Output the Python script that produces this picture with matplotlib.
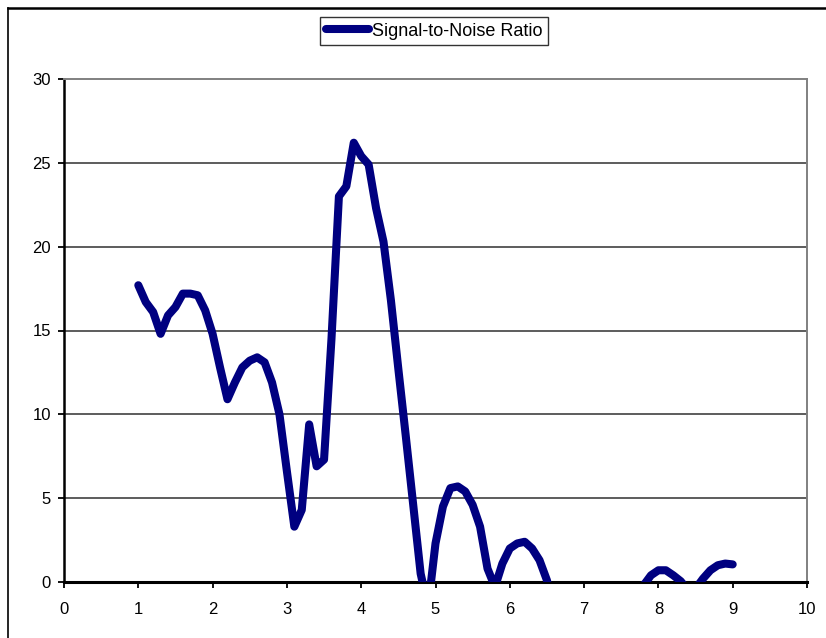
import matplotlib
matplotlib.use("Agg")
import matplotlib.pyplot as plt
from matplotlib.lines import Line2D
import numpy as np

# signal-to-noise ratio sampled every 0.1 from 1.0 to 9.0
x_vals = [1.0, 1.1, 1.2, 1.3, 1.4, 1.5, 1.6, 1.7, 1.8, 1.9,
          2.0, 2.1, 2.2, 2.3, 2.4, 2.5, 2.6, 2.7, 2.8, 2.9,
          3.0, 3.1, 3.2, 3.3, 3.4, 3.5, 3.6, 3.7, 3.8, 3.9,
          4.0, 4.1, 4.2, 4.3, 4.4, 4.5, 4.6, 4.7, 4.8, 4.9,
          5.0, 5.1, 5.2, 5.3, 5.4, 5.5, 5.6, 5.7, 5.8, 5.9,
          6.0, 6.1, 6.2, 6.3, 6.4, 6.5, 6.6, 6.7, 6.8, 6.9,
          7.0, 7.1, 7.2, 7.3, 7.4, 7.5, 7.6, 7.7, 7.8, 7.9,
          8.0, 8.1, 8.2, 8.3, 8.4, 8.5, 8.6, 8.7, 8.8, 8.9,
          9.0]
snr = [17.7, 16.7, 16.1, 14.8, 15.9, 16.4, 17.2, 17.2, 17.1, 16.2,
       14.8, 12.8, 10.9, 11.9, 12.8, 13.2, 13.4, 13.1, 11.9, 10.0,
       6.6, 3.3, 4.3, 9.4, 6.9, 7.3, 14.5, 23.0, 23.6, 26.2,
       25.4, 24.9, 22.3, 20.3, 16.8, 12.7, 8.7, 4.6, 0.5, -1.5,
       2.3, 4.5, 5.6, 5.7, 5.4, 4.6, 3.3, 0.8, -0.3, 1.1,
       2.0, 2.3, 2.4, 2.0, 1.3, 0.1, -2.0, -4.5, -6.0, -5.0,
       -3.5, -4.0, -6.0, -7.0, -5.5, -3.0, -1.5, -0.6, -0.2, 0.4,
       0.7, 0.7, 0.4, 0.05, -0.5, -0.4, 0.2, 0.7, 1.0, 1.1,
       1.05]

x_ticks = [0, 1, 2, 3, 4, 5, 6, 7, 8, 9, 10]
y_ticks = [0, 5, 10, 15, 20, 25, 30]

plt.rcParams['font.family'] = ['Liberation Sans', 'DejaVu Sans']

fig = plt.figure(figsize=(8.26, 6.38), dpi=100)
ax = fig.add_axes([64/826, 1 - 582/638, (807 - 64)/826, (582 - 79)/638])

ax.plot(x_vals, snr, color='#000080', lw=5.8, solid_capstyle='round',
        solid_joinstyle='round', label='Signal-to-Noise Ratio', zorder=3)

ax.set_xlim(0, 10)
ax.set_ylim(0, 30)
ax.set_xticks(x_ticks)
ax.set_yticks(y_ticks)

# horizontal gridlines only, like the excel default
for v in y_ticks[1:-1]:
    ax.axhline(v, color='#303030', lw=1.1, zorder=1)

ax.spines['top'].set_color('#808080')
ax.spines['right'].set_color('#808080')
ax.spines['top'].set_linewidth(1.4)
ax.spines['right'].set_linewidth(1.4)
ax.spines['left'].set_linewidth(1.8)
ax.spines['bottom'].set_linewidth(2.2)

ax.tick_params(axis='both', direction='out', length=4.5, width=1.3,
               labelsize=12, color='black')
ax.tick_params(axis='y', pad=5)
ax.tick_params(axis='x', pad=10)

fig.legend(loc='center', bbox_to_anchor=(434/826, 1 - 31/638),
           frameon=True, fancybox=False, edgecolor='black', fontsize=13,
           handlelength=2.4, handletextpad=0.15, borderpad=0.3,
           borderaxespad=0)
leg = fig.legends[0]
leg.get_frame().set_linewidth(1.0)

# outer chart border (top and left visible, rest runs off the image)
fig.add_artist(Line2D([8/826, 1.0], [1 - 8/638, 1 - 8/638],
                      transform=fig.transFigure, color='black', lw=1.8))
fig.add_artist(Line2D([8/826, 8/826], [0.0, 1 - 8/638],
                      transform=fig.transFigure, color='black', lw=1.2))

fig.savefig('out.png', dpi=100)
